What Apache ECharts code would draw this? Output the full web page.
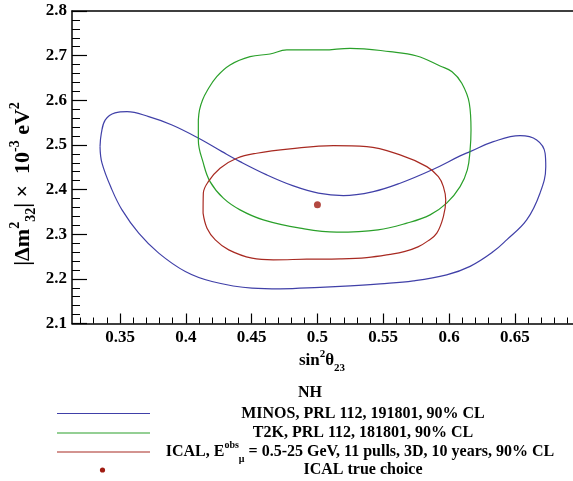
<!DOCTYPE html>
<html>
<head>
<meta charset="utf-8">
<script src="https://cdn.jsdelivr.net/npm/echarts@6/dist/echarts.min.js"></script>
<style>
html,body{margin:0;padding:0;background:#fff;}
#chart{width:573px;height:481px;}
</style>
</head>
<body>
<div id="chart"></div>
<script>
// ---- data (sin^2 theta23, |dm^2_32| in 1e-3 eV^2) ----
const minos = [
  [0.3348,2.4962],[0.3358,2.5262],[0.3388,2.5560],[0.3462,2.5717],[0.3553,2.5746],
  [0.3718,2.5634],[0.3895,2.5448],[0.4098,2.5150],[0.4275,2.4850],[0.4412,2.4626],
  [0.4615,2.4329],[0.4817,2.4082],[0.5007,2.3919],[0.5197,2.3865],[0.5425,2.3955],
  [0.5628,2.4143],[0.5881,2.4456],[0.6084,2.4754],[0.6160,2.4850],[0.6337,2.5074],
  [0.6540,2.5208],[0.6666,2.5112],[0.6730,2.4814],[0.6735,2.4514],[0.6691,2.3919],
  [0.6590,2.3321],[0.6438,2.2874],[0.6334,2.2605],[0.6160,2.2280],[0.5982,2.2090],
  [0.5729,2.1956],[0.5476,2.1889],[0.5248,2.1844],[0.5020,2.1810],[0.4716,2.1777],
  [0.4503,2.1792],[0.4199,2.1940],[0.3996,2.2164],[0.3794,2.2576],[0.3642,2.3023],
  [0.3515,2.3545],[0.3439,2.3993],[0.3363,2.4591],[0.3348,2.4962]
];
const t2k = [
  [0.4095,2.5560],[0.4104,2.5784],[0.4127,2.6008],[0.4161,2.6209],[0.4235,2.6529],
  [0.4336,2.6791],[0.4488,2.6977],[0.4640,2.7037],[0.4767,2.7127],[0.5045,2.7127],
  [0.5248,2.7165],[0.5552,2.7089],[0.5755,2.6993],[0.5932,2.6769],[0.6023,2.6641],
  [0.6097,2.6381],[0.6154,2.5934],[0.6167,2.5336],[0.6160,2.4888],[0.6139,2.4441],
  [0.6084,2.4067],[0.5982,2.3695],[0.5856,2.3433],[0.5679,2.3247],[0.5460,2.3097],
  [0.5147,2.3046],[0.4868,2.3135],[0.4589,2.3321],[0.4412,2.3545],[0.4285,2.3807],
  [0.4184,2.4179],[0.4133,2.4591],[0.4095,2.5112],[0.4095,2.5560]
];
const ical = [
  [0.4131,2.3471],[0.4133,2.3919],[0.4171,2.4179],[0.4260,2.4479],[0.4387,2.4702],
  [0.4539,2.4814],[0.4792,2.4911],[0.5121,2.4985],[0.5375,2.4962],[0.5628,2.4776],
  [0.5831,2.4514],[0.5919,2.4291],[0.5957,2.4067],[0.5975,2.3769],[0.5957,2.3395],
  [0.5907,2.3023],[0.5840,2.2851],[0.5764,2.2717],[0.5666,2.2616],[0.5552,2.2549],
  [0.5375,2.2477],[0.5172,2.2448],[0.4919,2.2441],[0.4665,2.2426],[0.4503,2.2464],
  [0.4326,2.2650],[0.4224,2.2874],[0.4161,2.3135],[0.4131,2.3471]
];
const trueChoice = [[0.5, 2.366]];

const xTicks = [0.35, 0.40, 0.45, 0.50, 0.55, 0.60, 0.65];
const xTickLabels = ['0.35','0.4','0.45','0.5','0.55','0.6','0.65'];
const xMinorTicks = [0.32,0.33,0.34,0.36,0.37,0.38,0.39,0.41,0.42,0.43,0.44,0.46,0.47,0.48,0.49,
  0.51,0.52,0.53,0.54,0.56,0.57,0.58,0.59,0.61,0.62,0.63,0.64,0.66,0.67,0.68,0.69];
const xMin = 0.3135, xMax = 0.6942;
const yMin = 2.1, yMax = 2.8, yStep = 0.1;

const legendTitle = 'NH';
const legendNames = ['MINOS, PRL 112, 191801, 90% CL', 'T2K, PRL 112, 181801, 90% CL', 'ICAL', 'ICAL true choice'];

// ---- chart ----
const FONT = 'Liberation Serif';
const cBlue = '#4040a8', cGreen = '#2aa02a', cRed = '#a82a22', cDot = '#a01c12';
const chart = echarts.init(document.getElementById('chart'), null, {renderer: 'canvas'});

const labelStyle = {fontFamily: FONT, fontWeight: 'bold', fontSize: 17, color: '#000'};
const rich = (fs) => ({
  a:   {fontFamily: FONT, fontWeight: 'bold', fontSize: fs, lineHeight: fs + 8, verticalAlign: 'middle', fill: '#000', color: '#000'},
  sup: {fontFamily: FONT, fontWeight: 'bold', fontSize: Math.round(fs * 0.65), lineHeight: Math.round(fs * 0.65), verticalAlign: 'top', fill: '#000', color: '#000'},
  sub: {fontFamily: FONT, fontWeight: 'bold', fontSize: Math.round(fs * 0.65), lineHeight: Math.round(fs * 0.65), verticalAlign: 'bottom', fill: '#000', color: '#000'}
});

const legendRows = [413.5, 433, 452, 470];
const legendCx = 363;

const option = {
  animation: false,
  backgroundColor: '#fff',
  grid: {left: 72, right: 0, top: 11, bottom: 157.5, containLabel: false},
  xAxis: [
    {
      type: 'value', min: xMin, max: xMax, position: 'bottom',
      axisLine: {show: true, onZero: false, lineStyle: {color: '#000', width: 1.5}},
      axisTick: {show: true, inside: true, length: 10, customValues: xTicks, lineStyle: {color: '#000', width: 1.2}},
      axisLabel: {show: true, customValues: xTicks, margin: 6, ...labelStyle,
        formatter: (v) => { const i = xTicks.findIndex(t => Math.abs(t - v) < 1e-6); return i >= 0 ? xTickLabels[i] : ''; }},
      splitLine: {show: false}
    },
    {
      type: 'value', min: xMin, max: xMax, position: 'bottom',
      axisLine: {show: false},
      axisTick: {show: true, inside: true, length: 6, customValues: xMinorTicks, lineStyle: {color: '#000', width: 1}},
      axisLabel: {show: false}, splitLine: {show: false}
    },
    {
      type: 'value', min: xMin, max: xMax, position: 'top',
      axisLine: {show: true, onZero: false, lineStyle: {color: '#000', width: 1.5}},
      axisTick: {show: false}, axisLabel: {show: false}, splitLine: {show: false}
    }
  ],
  yAxis: [{
    type: 'value', min: yMin, max: yMax, interval: yStep, position: 'left',
    axisLine: {show: true, onZero: false, lineStyle: {color: '#000', width: 1.5}},
    axisTick: {show: true, inside: true, length: 15, lineStyle: {color: '#000', width: 1.2}},
    minorTick: {show: true, splitNumber: 5, length: 8, lineStyle: {color: '#000', width: 1}},
    axisLabel: {show: true, margin: 5, ...labelStyle, formatter: (v) => v.toFixed(1)},
    splitLine: {show: false}, minorSplitLine: {show: false}
  }],
  series: [
    {name: legendNames[0], type: 'line', data: minos, smooth: 0.4, showSymbol: false, symbol: 'none',
      lineStyle: {color: cBlue, width: 1.2}, itemStyle: {color: cBlue}, xAxisIndex: 0, yAxisIndex: 0},
    {name: legendNames[1], type: 'line', data: t2k, smooth: 0.4, showSymbol: false, symbol: 'none',
      lineStyle: {color: cGreen, width: 1.2}, itemStyle: {color: cGreen}, xAxisIndex: 0, yAxisIndex: 0},
    {name: legendNames[2], type: 'line', data: ical, smooth: 0.4, showSymbol: false, symbol: 'none',
      lineStyle: {color: cRed, width: 1.2}, itemStyle: {color: cRed}, xAxisIndex: 0, yAxisIndex: 0},
    {name: legendNames[3], type: 'scatter', data: trueChoice, symbol: 'circle', symbolSize: 7,
      itemStyle: {color: cDot}, xAxisIndex: 0, yAxisIndex: 0}
  ],
  graphic: [
    // y-axis title
    {type: 'text', x: 23, y: 184, rotation: Math.PI / 2,
      style: {text: '{a||Δm}{sup|2}{sub|32}{a|| ×  10}{sup|-3}{a| eV}{sup|2}', rich: rich(22),
        align: 'center', verticalAlign: 'middle'}},
    // x-axis title
    {type: 'text', x: 322, y: 361,
      style: {text: '{a|sin}{sup|2}{a|θ}{sub|23}', rich: rich(17), align: 'center', verticalAlign: 'middle'}},
    // legend
    {type: 'text', x: 310, y: 393,
      style: {text: legendTitle, fontFamily: FONT, fontWeight: 'bold', fontSize: 16, fill: '#000', align: 'center', verticalAlign: 'middle'}},
    {type: 'line', shape: {x1: 57, y1: 413.5, x2: 150, y2: 413.5}, style: {stroke: cBlue, lineWidth: 1.2}},
    {type: 'line', shape: {x1: 57, y1: 433, x2: 150, y2: 433}, style: {stroke: cGreen, lineWidth: 1.2}},
    {type: 'line', shape: {x1: 57, y1: 452, x2: 150, y2: 452}, style: {stroke: cRed, lineWidth: 1.2}},
    {type: 'circle', shape: {cx: 102.5, cy: 470, r: 2.6}, style: {fill: cDot}},
    {type: 'text', x: legendCx, y: legendRows[0],
      style: {text: legendNames[0], fontFamily: FONT, fontWeight: 'bold', fontSize: 16, fill: '#000', align: 'center', verticalAlign: 'middle'}},
    {type: 'text', x: legendCx, y: legendRows[1],
      style: {text: legendNames[1], fontFamily: FONT, fontWeight: 'bold', fontSize: 16, fill: '#000', align: 'center', verticalAlign: 'middle'}},
    {type: 'text', x: 360, y: legendRows[2],
      style: {text: '{a|' + legendNames[2] + ', E}{sup|obs}{sub|μ}{a| = 0.5-25 GeV, 11 pulls, 3D, 10 years, 90% CL}',
        rich: rich(16), align: 'center', verticalAlign: 'middle'}},
    {type: 'text', x: legendCx, y: legendRows[3],
      style: {text: legendNames[3], fontFamily: FONT, fontWeight: 'bold', fontSize: 16, fill: '#000', align: 'center', verticalAlign: 'middle'}}
  ]
};
chart.setOption(option);
</script>
</body>
</html>
